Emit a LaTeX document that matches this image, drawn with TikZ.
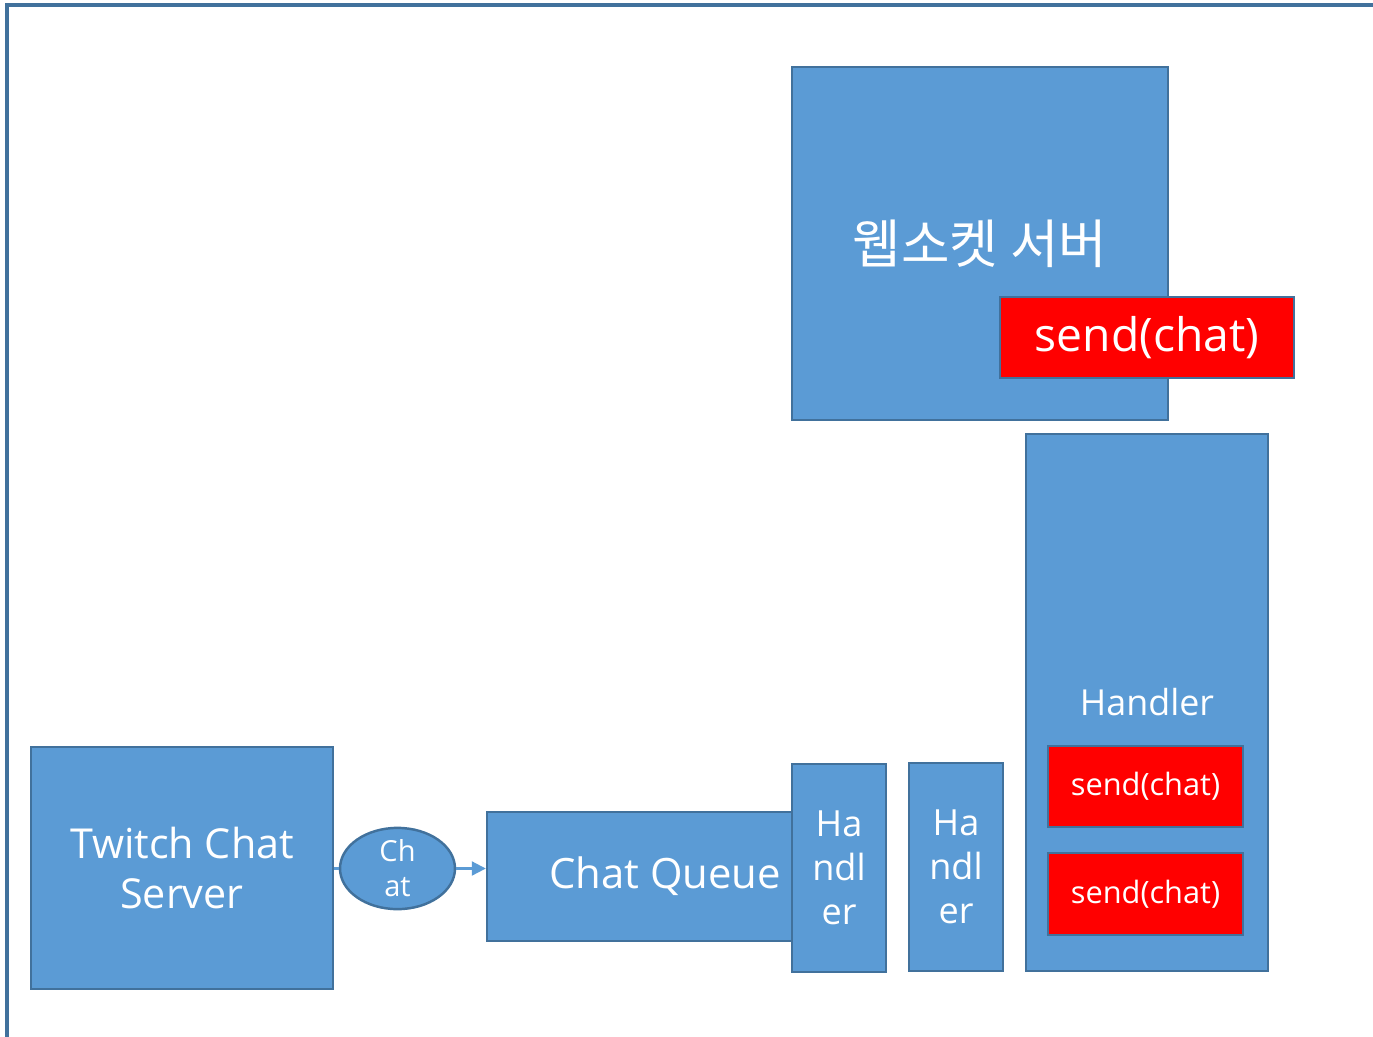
\documentclass[tikz,border=0pt]{standalone}
\usepackage{fontspec}
\setmainfont{Open Sans}
\newfontfamily\kofont{Noto Sans CJK KR}
\usetikzlibrary{shapes.geometric,arrows.meta}

\definecolor{boxblue}{HTML}{5B9BD5}
\definecolor{edgeblue}{HTML}{41719C}
\definecolor{sendred}{HTML}{FF0000}

\tikzset{
  block/.style={draw=edgeblue, line width=1.4pt, fill=boxblue, text=white,
    align=center, inner sep=0pt},
  sendbox/.style={block, fill=sendred},
  link/.style={draw=boxblue, line width=1.2pt}
}

\begin{document}
\begin{tikzpicture}[x=0.02cm, y=-0.02cm]
    \useasboundingbox (0,0) rectangle (1373,1036);

    % draw frame
    \draw[edgeblue, line width=1.9pt] (7,1040) -- (7,5) -- (1380,5);

    % draw server side
    \node[block, minimum width=7.52cm, minimum height=7.06cm, font=\kofont\fontsize{30}{34}\selectfont] (ws) at (980,243.5) {웹소켓 서버};
    \node[sendbox, minimum width=5.88cm, minimum height=1.62cm, font=\fontsize{26.3}{30}\selectfont] (wssend) at (1147,337.5) {\raisebox{-2pt}{send(chat)}};

    % draw twitch side
    \node[block, minimum width=6.04cm, minimum height=4.84cm, font=\fontsize{23.5}{28}\selectfont] (twitch) at (182,868) {Twitch Chat\\Server};
    \node[block, ellipse, minimum width=2.3cm, minimum height=1.5cm, font=\fontsize{16.5}{20}\selectfont] (chat) at (397.5,868.5) {Ch\\at};
    \node[block, minimum width=7.12cm, minimum height=2.58cm, font=\fontsize{23.8}{28}\selectfont] (queue) at (665,876.5) {\raisebox{-2pt}{Chat Queue}};

    % draw handlers
    \foreach \name/\x/\y in {hone/839/868, htwo/956/867}
      \node[block, minimum width=1.88cm, minimum height=4.16cm, font=\fontsize{20.5}{25}\selectfont] (\name) at (\x,\y) {Ha\\ndl\\er};
    \node[block, minimum width=4.84cm, minimum height=10.74cm, font=\fontsize{20.4}{24}\selectfont] (hbig) at (1147,702.5) {Handler};
    \node[sendbox, minimum width=3.9cm, minimum height=1.62cm, font=\fontsize{17.5}{20}\selectfont] (sendone) at (1145.5,786.5) {\raisebox{-2pt}{send(chat)}};
    \node[sendbox, minimum width=3.9cm, minimum height=1.64cm, font=\fontsize{17.5}{20}\selectfont] (sendtwo) at (1145.5,894) {\raisebox{-2pt}{send(chat)}};

    % draw connectors
    \draw[link] (chat.west) -- (chat.west -| twitch.east);
    \draw[link, -{Triangle[length=8pt, width=8pt]}] (chat.east) -- (chat.east -| queue.west);
  \end{tikzpicture}
\end{document}
